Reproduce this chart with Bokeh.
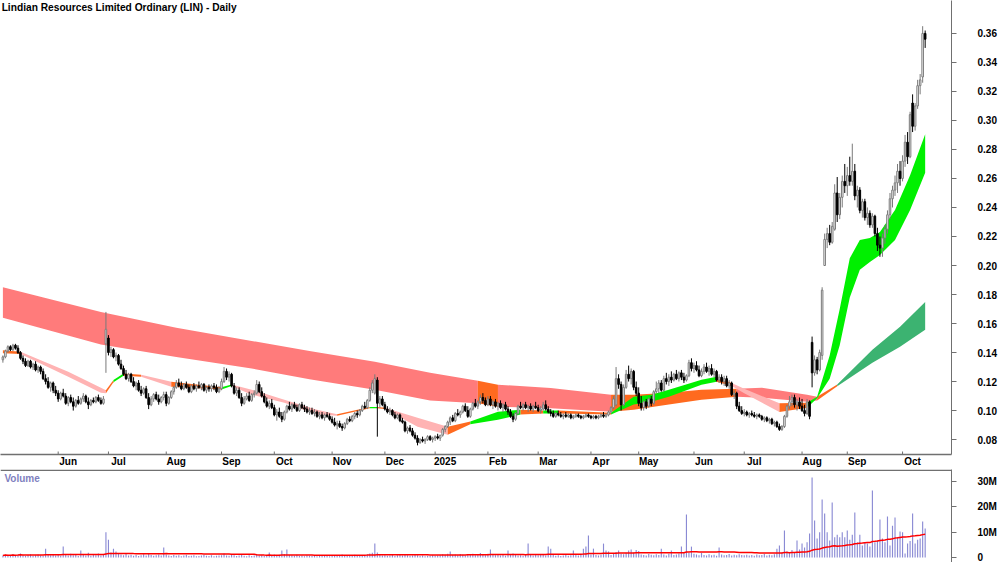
from bokeh.plotting import figure
from bokeh.models import Range1d, FixedTicker, NumeralTickFormatter, Label, Span, ColumnDataSource
from bokeh.layouts import column
from bokeh.embed import file_html
from bokeh.resources import INLINE
import numpy as np
import pandas as pd

TITLE = "Lindian Resources Limited Ordinary (LIN) - Daily"

# trading days per month shown (index axis), and month labels
month_labels = ["May", "Jun", "Jul", "Aug", "Sep", "Oct", "Nov", "Dec", "2025",
                "Feb", "Mar", "Apr", "May", "Jun", "Jul", "Aug", "Sep", "Oct"]
month_days = [22, 20, 23, 22, 21, 23, 21, 20, 21, 20, 21, 19, 22, 20, 23, 18, 22, 10]

# daily candles (open, high, low, close) in tenths of a cent (0.001 $)
may24 = [(135,138,133,137),(137,142,136,141),(141,145,140,144),(144,145,141,142),(142,146,141,145),
         (145,146,142,143),(143,145,139,140),(140,141,135,136),(136,138,132,134),(134,136,130,131),
         (131,135,130,134),(134,135,129,130),(130,133,128,132),(132,134,127,128),(128,131,126,130),
         (130,131,125,127),(127,129,121,122),(122,125,118,120),(120,123,115,116),(116,120,113,119),
         (119,120,112,114),(114,117,110,112)]
jun24 = [(112,114,106,108),(108,113,107,112),(112,115,109,110),(110,112,104,105),(105,110,103,109),
         (109,111,105,106),(106,109,100,103),(103,108,102,107),(107,110,104,105),(105,109,104,108),
         (108,112,106,110),(110,111,105,106),(106,109,101,104),(104,108,103,107),(107,109,105,106),
         (106,110,105,109),(109,111,106,107),(107,109,104,105),(105,110,104,108),(146,168,126,156)]
jul24 = [(150,152,138,140),(140,144,137,142),(142,143,136,137),(137,140,134,138),(138,139,131,132),
         (132,135,128,129),(129,131,124,125),(125,128,121,122),(122,126,120,125),(125,126,119,120),
         (120,123,116,117),(117,120,114,119),(119,121,113,114),(114,117,110,112),(112,116,111,115),
         (115,117,108,109),(109,112,101,104),(104,110,103,108),(108,112,106,111),(111,113,107,108),
         (108,111,104,106),(106,110,105,109),(109,113,107,111)]
aug24 = [(111,113,103,105),(105,110,104,109),(109,114,108,113),(113,117,111,116),(116,121,115,119),
         (119,122,116,117),(117,120,114,115),(115,119,114,118),(118,120,115,116),(116,118,112,113),
         (113,118,112,117),(117,119,114,115),(115,118,113,117),(117,120,115,116),(116,119,114,118),
         (118,119,113,114),(114,117,112,116),(116,118,113,115),(115,118,113,117),(117,119,114,116),
         (116,118,112,113),(113,117,112,115)]
sep24 = [(115,122,114,120),(120,130,119,127),(127,129,121,123),(123,127,120,125),(125,126,116,117),
         (117,119,111,112),(112,116,110,114),(114,116,108,109),(109,112,103,105),(105,110,104,108),
         (108,112,107,110),(110,113,106,107),(107,112,106,111),(111,114,109,112),(112,121,111,118),
         (118,120,112,113),(113,116,109,110),(110,112,105,106),(106,109,102,103),(103,107,101,105),
         (105,108,101,102)]
oct24 = [(102,104,96,97),(97,101,93,99),(99,102,95,96),(96,99,92,94),(94,100,93,99),
         (99,104,98,103),(103,106,100,101),(101,105,99,104),(104,106,101,102),(102,104,99,100),
         (100,105,99,104),(104,106,101,102),(102,104,99,101),(101,103,98,99),(99,102,97,100),
         (100,102,97,98),(98,101,96,99),(99,100,95,96),(96,99,94,97),(97,99,94,95),
         (95,98,93,97),(97,99,95,96),(96,98,93,94)]
nov24 = [(94,96,91,92),(92,95,89,90),(90,93,87,91),(91,93,88,89),(89,91,86,88),
         (88,92,87,91),(91,95,90,94),(94,96,92,93),(93,97,92,96),(96,99,94,98),
         (98,100,95,97),(97,101,96,100),(100,104,99,103),(103,106,101,102),(102,108,101,107),
         (107,116,106,114),(114,121,112,119),(112,125,111,122),(121,123,82,105),(105,110,102,108),
         (108,110,103,104)]
dec24 = [(104,106,100,101),(101,103,98,99),(99,102,97,100),(100,101,96,97),(97,99,94,95),
         (95,98,94,97),(97,98,92,93),(93,95,91,92),(92,93,85,86),(86,89,84,88),
         (88,90,85,86),(86,88,82,83),(83,85,80,81),(81,83,76,78),(78,81,77,80),
         (80,82,78,79),(79,81,77,80),(80,83,79,82),(82,83,79,80),(80,82,78,81)]
jan25 = [(81,83,79,82),(82,84,80,81),(81,83,79,83),(83,88,82,87),(87,90,85,89),
         (89,93,88,92),(92,96,90,95),(95,97,92,93),(93,99,92,98),(98,101,96,97),
         (97,100,95,99),(99,104,98,103),(103,105,99,100),(100,103,95,96),(96,102,95,101),
         (101,106,100,105),(105,108,102,103),(103,107,101,106),(106,111,104,109),(109,112,105,107),
         (107,109,103,104)]
feb25 = [(104,110,103,108),(108,110,103,104),(104,107,101,106),(106,108,102,103),(103,106,100,105),
         (105,107,101,102),(102,105,99,104),(104,106,100,101),(101,103,97,99),(99,101,95,96),
         (96,98,92,94),(94,99,93,98),(98,104,97,103),(103,106,101,102),(102,105,100,104),
         (104,106,101,102),(102,104,99,103),(103,105,100,101),(101,104,99,103),(103,106,101,102)]
mar25 = [(102,104,99,100),(100,103,98,101),(101,106,100,104),(104,107,100,101),(101,103,98,99),
         (99,101,96,98),(98,100,95,96),(96,99,95,98),(98,100,96,97),(97,99,95,96),
         (96,98,94,97),(97,99,95,96),(96,98,95,97),(97,98,94,95),(95,97,94,96),
         (96,98,95,97),(97,98,95,96),(96,97,94,95),(95,97,94,96),(96,98,95,97),
         (97,98,95,96)]
apr25 = [(96,97,94,95),(95,97,94,96),(96,97,94,95),(95,97,94,96),(96,98,95,97),
         (97,99,95,96),(96,98,95,97),(97,100,96,99),(99,103,98,102),(102,110,101,108),
         (104,130,103,122),(122,125,115,118),(118,120,100,104),(104,118,103,116),(116,128,115,125),
         (125,131,120,122),(122,129,118,127),(127,128,114,116),(116,120,110,112)]
may25 = [(112,116,103,105),(105,110,100,102),(102,107,100,106),(106,108,101,103),(103,109,102,108),
         (108,110,103,105),(105,114,104,113),(113,120,112,115),(115,121,112,119),(119,121,113,114),
         (114,124,113,122),(122,126,118,120),(120,125,117,123),(123,127,119,121),(121,126,120,125),
         (125,128,121,122),(122,127,120,126),(126,128,121,123),(123,126,119,121),(121,125,120,124),
         (124,135,123,133),(133,136,127,129)]
jun25 = [(129,133,126,131),(131,134,127,128),(128,131,123,124),(124,129,123,127),(127,132,125,130),
         (130,133,126,127),(127,131,124,129),(129,132,124,125),(125,129,123,127),(127,128,120,121),
         (121,125,119,123),(123,125,118,120),(120,124,117,122),(122,124,116,117),(117,121,115,119),
         (119,120,110,111),(111,114,108,112),(112,113,101,103),(103,106,99,100),(100,103,97,98)]
jul25 = [(98,101,96,99),(99,100,96,97),(97,99,95,98),(98,100,96,97),(97,99,95,96),
         (96,98,94,97),(97,98,95,96),(96,97,93,94),(94,96,92,95),(95,96,92,93),
         (93,95,91,94),(94,95,90,91),(91,93,89,92),(92,93,88,89),(89,91,86,87),
         (87,90,86,89),(89,97,88,96),(96,104,95,103),(103,110,101,106),(106,111,103,109),
         (109,111,102,104),(104,108,100,106),(106,109,101,103)]
aug25 = [(103,108,99,100),(100,104,96,98),(98,108,97,106),(106,107,94,96),(147,151,116,126),
         (126,138,124,135),(135,137,125,128),(128,142,127,140),(138,185,135,183),(200,222,200,218),
         (218,226,212,222),(222,228,214,216),(216,230,215,227),(225,256,224,250),(250,261,230,235),
         (235,250,232,247),(247,262,240,258),(258,270,250,255)]
sep25 = [(255,268,248,262),(262,275,255,258),(258,284,255,265),(265,270,245,248),(248,255,240,252),
         (252,254,236,238),(238,246,233,244),(244,246,231,233),(233,240,228,236),(236,238,226,228),
         (228,236,226,234),(234,235,220,222),(222,226,210,214),(214,220,206,212),(212,222,206,219),
         (219,228,215,225),(225,238,222,235),(235,250,232,246),(246,255,240,252),(252,262,248,257),
         (257,270,250,265),(265,272,255,260)]
oct25 = [(260,276,258,272),(272,290,268,285),(285,292,270,275),(275,306,274,304),(312,318,292,296),
         (296,312,293,310),(310,328,308,324),(324,332,318,328),(330,365,326,360),(360,362,350,356)]

# daily volume, millions of shares
vol_may24 = [0.8,1.2,0.6,0.9,1.4,0.7,1.1,1.6,0.9,0.6,1.0,1.3,0.7,0.9,1.2,0.8,0.6,3.5,1.1,0.9,1.4,0.8]
vol_jun24 = [1.0,0.7,4.3,1.2,0.8,1.5,0.9,1.1,0.6,2.8,1.0,0.8,1.9,0.7,1.2,0.9,1.6,0.8,1.3,10.0]
vol_jul24 = [7.0,2.0,3.5,2.4,1.5,1.2,0.9,1.4,0.8,1.1,0.7,1.0,0.6,0.9,1.3,0.8,1.5,1.0,0.7,0.9,1.2,0.8,4.0]
vol_aug24 = [1.2,0.8,0.6,1.0,0.7,0.9,0.5,0.8,1.1,0.6,0.7,0.9,0.5,0.6,0.8,1.0,0.7,0.6,0.9,0.5,0.7,0.8]
vol_sep24 = [0.9,1.6,0.8,0.7,1.1,0.9,0.6,0.8,1.2,0.7,0.5,0.9,0.6,0.8,1.3,0.7,0.9,0.6,1.0,2.0,0.8]
vol_oct24 = [1.2,0.8,1.1,2.8,1.4,3.2,1.0,0.9,0.7,1.1,0.6,0.8,0.5,0.9,0.7,0.6,0.8,0.5,0.7,0.9,0.6,0.8,0.5]
vol_nov24 = [0.6,0.8,1.0,0.7,1.2,0.9,0.6,0.8,0.7,1.1,0.9,0.6,0.8,1.0,1.3,1.6,1.9,5.5,2.0,1.1,0.8]
vol_dec24 = [0.9,0.7,0.8,1.0,0.6,0.9,1.2,0.8,1.4,0.9,0.7,0.8,1.1,0.9,0.6,0.8,0.5,0.7,0.6,0.9]
vol_jan25 = [0.7,0.8,0.9,1.3,1.1,1.5,2.4,1.0,1.2,0.9,1.4,1.1,0.8,1.0,1.2,1.5,0.9,1.3,1.8,1.0,0.9]
vol_feb25 = [1.5,3.2,1.1,0.9,1.2,0.8,1.0,0.7,2.8,1.3,1.6,1.0,0.8,0.9,0.7,1.1,5.5,1.0,0.8,1.2]
vol_mar25 = [0.9,1.0,1.4,0.8,4.3,3.5,1.0,0.7,0.9,0.6,0.8,1.1,0.7,0.9,2.8,1.0,0.8,1.2,3.5,4.3,8.7]
vol_apr25 = [1.2,3.5,1.0,0.8,1.1,5.5,2.8,2.4,1.0,1.6,2.2,2.8,1.5,1.3,1.9,2.8,3.2,2.0,3.0]
vol_may25 = [2.6,1.2,1.0,0.8,1.4,1.1,0.9,1.3,1.0,3.5,1.2,0.8,1.5,2.8,1.0,1.2,1.6,4.3,2.0,17.0,1.8,4.3]
vol_jun25 = [1.5,1.2,0.9,1.8,1.0,0.8,1.3,0.9,1.1,0.7,4.0,1.2,0.9,1.0,1.4,0.8,1.1,0.9,1.3,1.0]
vol_jul25 = [0.9,1.1,0.8,1.0,0.7,1.2,0.9,1.0,1.4,0.8,1.1,0.9,1.3,3.5,4.7,2.0,10.7,2.5,1.8,3.0,2.2,6.7,3.2]
vol_aug25 = [5.5,4.0,6.0,9.5,31.6,14.6,7.5,10.0,22.9,17.4,10.0,6.7,21.7,8.0,9.0,8.0,10.0,8.0]
vol_sep25 = [10.7,7.0,9.0,17.8,6.0,9.0,4.7,6.0,5.5,4.3,26.5,6.0,6.7,15.0,7.5,6.0,16.2,4.7,12.6,15.8,8.0,10.3]
vol_oct25 = [10.0,1.6,5.5,6.5,17.4,5.5,7.0,7.5,14.2,11.5]

# moving-average ribbons (day index, upper, lower, colour to next point)
long_x   = [0, 39, 69, 99, 122, 148, 170, 189, 197, 218, 242, 251, 265, 278, 292, 302, 320, 324, 332, 346, 357, 367]
long_top = [0.185, 0.168, 0.157, 0.148, 0.141, 0.1336, 0.126, 0.1205, 0.1178, 0.1155, 0.1109, 0.1109, 0.1123,
            0.1144, 0.1150, 0.1158, 0.1109, 0.1095, 0.1180, 0.1419, 0.1577, 0.1749]
long_bot = [0.164, 0.1455, 0.137, 0.129, 0.1215, 0.1144, 0.107, 0.1050, 0.1027, 0.1015, 0.0992, 0.1006, 0.1041,
            0.1075, 0.1096, 0.1089, 0.1061, 0.1070, 0.1168, 0.1330, 0.1440, 0.1557]
long_col = ["S", "S", "S", "S", "S", "S", "S", "O", "S", "S", "O", "O", "O", "O", "S", "S", "S", "O", "D", "D", "D"]

short_x   = [0, 7, 26, 39, 41, 44, 48, 55, 67, 87, 91, 99, 112, 125, 133, 146, 149, 152, 165, 177, 186, 197,
             206, 215, 221, 242, 251, 258, 265, 278, 284, 290, 295, 309, 320, 324, 329, 333, 337, 341, 345,
             349, 355, 361, 367]
short_top = [0.1415, 0.1405, 0.1268, 0.1158, 0.1140, 0.1210, 0.1255, 0.1247, 0.1199, 0.1160, 0.1180, 0.1144,
             0.1075, 0.1006, 0.0975, 0.1025, 0.1025, 0.1020, 0.0951, 0.0889, 0.0925, 0.0992, 0.1006, 0.1000,
             0.1000, 0.0985, 0.1096, 0.1109, 0.1144, 0.1213, 0.1233, 0.1190, 0.1150, 0.1050, 0.1054, 0.1096,
             0.1380, 0.1700, 0.2050, 0.2176, 0.2190, 0.2231, 0.2382, 0.2623, 0.2905]
short_bot = [0.1395, 0.1390, 0.1233, 0.1123, 0.1120, 0.1195, 0.1240, 0.1233, 0.1164, 0.1145, 0.1170, 0.1109,
             0.1054, 0.0972, 0.0965, 0.1015, 0.1015, 0.1010, 0.0889, 0.0834, 0.0905, 0.0937, 0.0972, 0.0980,
             0.0980, 0.0972, 0.1041, 0.1061, 0.1096, 0.1178, 0.1199, 0.1170, 0.1120, 0.0990, 0.1020, 0.1085,
             0.1220, 0.1450, 0.1780, 0.1970, 0.2025, 0.2073, 0.2176, 0.2382, 0.2640]
short_col = ["O", "P", "P", "P", "O", "G", "O", "P", "O", "G", "P", "P", "P", "P", "O", "G", "O", "P", "P", "O",
             "G", "G", "O", "G", "O", "G", "G", "G", "G", "G", "O", "P", "P", "O", "G", "G", "G", "G", "G",
             "G", "G", "G", "G", "G"]

price_ticks = [0.08, 0.10, 0.12, 0.14, 0.16, 0.18, 0.20, 0.22, 0.24, 0.26, 0.28, 0.30, 0.32, 0.34, 0.36]
vol_ticks = [0, 10, 20, 30]
vol_tick_labels = ["0", "10M", "20M", "30M"]
VOL_MA_DAYS = 60

# ------------------------------------------------------------------
candles = (may24 + jun24 + jul24 + aug24 + sep24 + oct24 + nov24 + dec24 + jan25 + feb25 +
           mar25 + apr25 + may25 + jun25 + jul25 + aug25 + sep25 + oct25)
vols = (vol_may24 + vol_jun24 + vol_jul24 + vol_aug24 + vol_sep24 + vol_oct24 + vol_nov24 + vol_dec24 +
        vol_jan25 + vol_feb25 + vol_mar25 + vol_apr25 + vol_may25 + vol_jun25 + vol_jul25 + vol_aug25 +
        vol_sep25 + vol_oct25)
arr = np.array(candles, dtype=float) / 1000.0
o, h, l, c = arr[:, 0], arr[:, 1], arr[:, 2], arr[:, 3]
n = len(c)
idx = np.arange(n)
vols = np.array(vols[:n])
vol_ma = pd.Series(vols).rolling(VOL_MA_DAYS, min_periods=1).mean().values

K = 2.513      # px per day
X0 = 2.4       # px of day 0
FRAME_W = 951
x_start = -X0 / K
x_end = x_start + FRAME_W / K
LABEL_SHIFT = 10.0 / K   # month names sit just to the right of their tick

starts = np.cumsum([0] + month_days[:-1])
tick_pos = [float(s) for s in starts[1:]]
label_pos = [round(s + LABEL_SHIFT, 3) for s in tick_pos]
label_map = {lp: lab for lp, lab in zip(label_pos, month_labels[1:])}

FONT = "Liberation Sans"
AX = "#707070"
Y0, Y1 = 0.0697, 0.3827

p1 = figure(width=1000, height=469, output_backend="svg", toolbar_location=None,
            x_range=Range1d(x_start, x_end), y_range=Range1d(Y0, Y1),
            y_axis_location="right", x_axis_location="below",
            min_border_left=0, min_border_right=1000 - FRAME_W, min_border_top=0, min_border_bottom=14,
            outline_line_color=None, background_fill_color="white", border_fill_color="white")
p1.grid.visible = False

cmap_long = {"S": "#ff7b7b", "O": "#ff6a1f", "D": "#3cb371"}
cmap_short = {"P": "#ffb3b3", "O": "#ff6a1f", "G": "#00f000"}


def draw_band(p, xs, tops, bots, cols, cmap):
    i = 0
    m = len(cols)
    while i < m:
        j = i
        while j + 1 < m and cols[j + 1] == cols[i]:
            j += 1
        p.varea(x=xs[i:j + 2], y1=bots[i:j + 2], y2=tops[i:j + 2], fill_color=cmap[cols[i]], fill_alpha=1.0)
        i = j + 1


draw_band(p1, long_x, long_top, long_bot, long_col, cmap_long)
draw_band(p1, short_x, short_top, short_bot, short_col, cmap_short)

up = c >= o
src_up = ColumnDataSource(dict(x=idx[up], h=h[up], l=l[up],
                               top=np.maximum(o, c)[up], bot=np.minimum(o, c)[up]))
src_dn = ColumnDataSource(dict(x=idx[~up], h=h[~up], l=l[~up],
                               top=np.maximum(o, c)[~up], bot=np.minimum(o, c)[~up]))
p1.segment(x0="x", y0="l", x1="x", y1="h", source=src_up, line_color="#7a7a7a", line_width=1)
p1.segment(x0="x", y0="l", x1="x", y1="h", source=src_dn, line_color="#000000", line_width=1)
p1.vbar(x="x", top="top", bottom="bot", width=0.62, source=src_up, fill_color="white", line_color="#7a7a7a", line_width=1)
p1.vbar(x="x", top="top", bottom="bot", width=0.62, source=src_dn, fill_color="black", line_color="black", line_width=1)

# month tick marks, pointing up from the date axis
tick_h = 3 * (Y1 - Y0) / 455.0
p1.segment(x0=tick_pos, y0=[Y0] * len(tick_pos), x1=tick_pos, y1=[Y0 + tick_h] * len(tick_pos),
           line_color=AX, line_width=1)

p1.add_layout(Label(x=-0.5, y=0.3815, text=TITLE, text_font=FONT, text_font_style="bold",
                    text_font_size="10.2px", text_color="black", text_baseline="top", text_align="left"))

ya = p1.yaxis[0]
ya.ticker = FixedTicker(ticks=price_ticks)
ya.formatter = NumeralTickFormatter(format="0.00")
ya.axis_line_color = AX
ya.major_tick_line_color = AX
ya.major_tick_out = 5
ya.major_tick_in = 0
ya.minor_tick_line_color = None
ya.major_label_standoff = 21
ya.major_label_text_font = FONT
ya.major_label_text_font_style = "bold"
ya.major_label_text_font_size = "10px"
ya.major_label_text_color = "black"

xa = p1.xaxis[0]
xa.ticker = FixedTicker(ticks=label_pos)
xa.major_label_overrides = label_map
xa.axis_line_color = AX
xa.axis_line_width = 1.5
xa.major_tick_line_color = None
xa.major_tick_in = 0
xa.major_tick_out = 0
xa.minor_tick_line_color = None
xa.major_label_standoff = 1
xa.major_label_text_font = FONT
xa.major_label_text_font_style = "bold"
xa.major_label_text_font_size = "10px"
xa.major_label_text_color = "black"

# volume panel
p2 = figure(width=1000, height=93, output_backend="svg", toolbar_location=None,
            x_range=p1.x_range, y_range=Range1d(-1.98, 34.8),
            y_axis_location="right", x_axis_location=None,
            min_border_left=0, min_border_right=1000 - FRAME_W, min_border_top=0, min_border_bottom=0,
            outline_line_color=None, background_fill_color="white", border_fill_color="white")
p2.grid.visible = False
p2.vbar(x=idx, top=vols, bottom=0, width=0.45, fill_color="#8a8ad4", line_color=None)
p2.line(x=idx, y=vol_ma, line_color="#ff0000", line_width=1.5)
p2.add_layout(Span(location=34.55, dimension="width", line_color=AX, line_width=1.5))
p2.add_layout(Label(x=0.6, y=33.6, text="Volume", text_font=FONT, text_font_style="bold",
                    text_font_size="10px", text_color="#7f7fc0", text_baseline="top", text_align="left"))

va = p2.yaxis[0]
va.ticker = FixedTicker(ticks=vol_ticks)
va.major_label_overrides = {t: s for t, s in zip(vol_ticks, vol_tick_labels)}
va.axis_line_color = AX
va.major_tick_line_color = AX
va.major_tick_out = 5
va.major_tick_in = 0
va.minor_tick_line_color = None
va.major_label_standoff = 21
va.major_label_text_font = FONT
va.major_label_text_font_style = "bold"
va.major_label_text_font_size = "10px"
va.major_label_text_color = "black"

layout = column(p1, p2, spacing=0)
open("out.html", "w").write(file_html(layout, INLINE))
